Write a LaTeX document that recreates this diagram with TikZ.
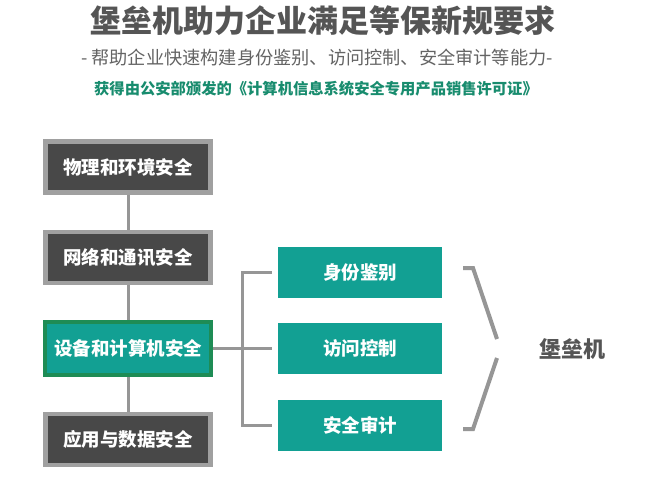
\documentclass[tikz,border=0pt]{standalone}
\usepackage{fontspec}
\setmainfont{Noto Sans CJK SC}
\definecolor{teal1}{RGB}{18,160,147}
\definecolor{teal2}{RGB}{30,140,85}
\definecolor{darkbox}{RGB}{72,72,72}
\definecolor{graybrd}{RGB}{160,160,160}
\definecolor{lineg}{RGB}{150,150,150}
\definecolor{titleg}{RGB}{85,85,85}
\definecolor{subg}{RGB}{100,100,100}
\definecolor{licg}{RGB}{24,140,110}
\begin{document}
\begin{tikzpicture}[x=1pt,y=-1pt,
  darkstyle/.style={draw=graybrd,line width=4.5pt,fill=darkbox,minimum width=165pt,minimum height=51pt,inner sep=0pt,text=white,font=\bfseries\fontsize{18.5}{18.5}\selectfont},
  greenstyle/.style={draw=teal2,line width=4pt,fill=teal1,minimum width=166pt,minimum height=53pt,inner sep=0pt,text=white,font=\bfseries\fontsize{18.5}{18.5}\selectfont},
  tealstyle/.style={fill=teal1,minimum width=164pt,minimum height=51pt,inner sep=0pt,text=white,font=\bfseries\fontsize{18.5}{18.5}\selectfont},
  conn/.style={draw=lineg,line width=3pt},
  brk/.style={draw=lineg,line width=4pt}]
\useasboundingbox (0,0) rectangle (645,500);
\fill[white] (0,0) rectangle (645,500);
\node[text=titleg,font=\bfseries\fontsize{31}{31}\selectfont] (title) at (323,21) {堡垒机助力企业满足等保新规要求};
\node[text=subg,font=\fontsize{18.2}{18.2}\selectfont] (sub) at (317,58) {- 帮助企业快速构建身份鉴别、访问控制、安全审计等能力-};
\node[text=licg,font=\bfseries\fontsize{15.3}{15.3}\selectfont] (lic) at (316,89) {获得由公安部颁发的《计算机信息系统安全专用产品销售许可证》};

\node[darkstyle] (b1) at (128,167) {物理和环境安全};
\node[darkstyle] (b2) at (128,257.5) {网络和通讯安全};
\node[darkstyle] (b4) at (128,439.5) {应用与数据安全};
\node[greenstyle] (b3) at (128,348.5) {设备和计算机安全};

\node[tealstyle] (r1) at (360,272) {身份鉴别};
\node[tealstyle] (r2) at (360,348.5) {访问控制};
\node[tealstyle] (r3) at (360,425.5) {安全审计};

\node[text=titleg,font=\bfseries\fontsize{22}{22}\selectfont] (bh) at (572,349) {堡垒机};

\path[conn] (b1.south) -- (b2.north);
\path[conn] (b2.south) -- (b3.north);
\path[conn] (b3.south) -- (b4.north);

\coordinate (j) at (242,348.5);
\path[conn] (b3.east) -- (j);
\path (r1.west) ++(-6,0) coordinate (t1);
\path (r2.west) ++(-6,0) coordinate (t2);
\path (r3.west) ++(-6,0) coordinate (t3);
\path[conn] (t1) -| (j) |- (t3);
\path[conn] (j) -- (t2);

\coordinate (a1) at (463,268);
\coordinate (a2) at (473,268);
\coordinate (a3) at (497,339);
\coordinate (c1) at (497,358);
\coordinate (c2) at (473,429);
\coordinate (c3) at (463,429);
\path[brk,line join=miter] (a1) -- (a2) -- (a3);
\path[brk,line join=miter] (c1) -- (c2) -- (c3);
\end{tikzpicture}
\end{document}
